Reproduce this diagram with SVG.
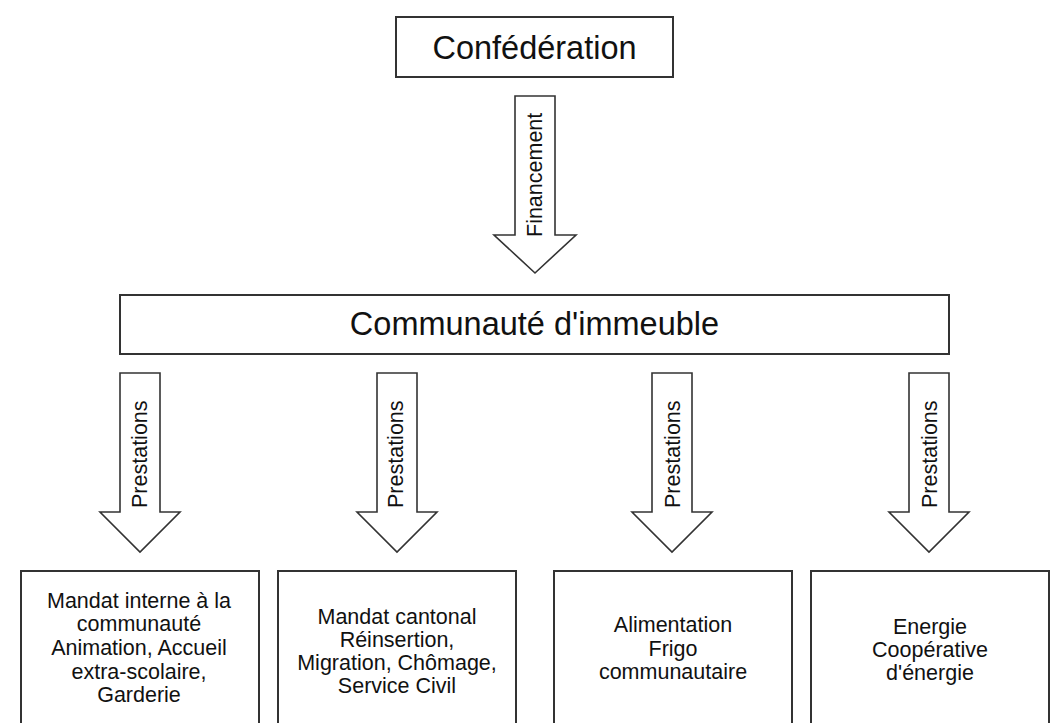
<svg xmlns="http://www.w3.org/2000/svg" width="1057" height="723" viewBox="0 0 1057 723">
<style>
.box{fill:#fff;stroke:#333;stroke-width:2}
.arr{fill:#fff;stroke:#333;stroke-width:1.6;stroke-linejoin:miter}
.big{font-family:"Liberation Sans",Arial,sans-serif;font-size:32.5px;fill:#111;text-anchor:middle}
.lab{font-family:"Liberation Sans",Arial,sans-serif;font-size:21.5px;fill:#111;text-anchor:start}
.sm{font-family:"Liberation Sans",Arial,sans-serif;font-size:21.5px;fill:#111;text-anchor:middle}
</style>
<rect width="1057" height="723" fill="#fff"/>
<g id="confederation">
<rect class="box" x="396" y="17" width="277" height="60"/>
<text class="big" x="534.5" y="59">Confédération</text>
</g>
<g id="communaute">
<rect class="box" x="120" y="295" width="829" height="59"/>
<text class="big" x="534.5" y="335">Communauté d'immeuble</text>
</g>
<g id="connectors">
<g id="arrow-financement">
<path class="arr" d="M515,96 H555 V235 H576 L535,273 L494,235 H515 Z"/>
<text class="lab" transform="translate(542,237) rotate(-90)">Financement</text>
</g>
<g id="arrow-p1">
<path class="arr" d="M120,373 H160 V512 H180 L140,552 L100,512 H120 Z"/>
<text class="lab" transform="translate(147,508) rotate(-90)">Prestations</text>
</g>
<g id="arrow-p2">
<path class="arr" d="M377,373 H417 V512 H437 L397,552 L357,512 H377 Z"/>
<text class="lab" transform="translate(403,508) rotate(-90)">Prestations</text>
</g>
<g id="arrow-p3">
<path class="arr" d="M652,373 H692 V512 H712 L672,552 L632,512 H652 Z"/>
<text class="lab" transform="translate(680,508) rotate(-90)">Prestations</text>
</g>
<g id="arrow-p4">
<path class="arr" d="M909,373 H949 V512 H969 L929,552 L889,512 H909 Z"/>
<text class="lab" transform="translate(937,508) rotate(-90)">Prestations</text>
</g>
</g>
<g id="box-mandat-interne">
<rect class="box" x="21" y="571" width="238" height="158"/>
<text class="sm" x="139" y="608">Mandat interne à la</text>
<text class="sm" x="139" y="631">communauté</text>
<text class="sm" x="139" y="655">Animation, Accueil</text>
<text class="sm" x="139" y="679">extra-scolaire,</text>
<text class="sm" x="139" y="702">Garderie</text>
</g>
<g id="box-mandat-cantonal">
<rect class="box" x="278" y="571" width="238" height="158"/>
<text class="sm" x="397" y="624">Mandat cantonal</text>
<text class="sm" x="397" y="647">Réinsertion,</text>
<text class="sm" x="397" y="670">Migration, Chômage,</text>
<text class="sm" x="397" y="693">Service Civil</text>
</g>
<g id="box-alimentation">
<rect class="box" x="554" y="571" width="238" height="158"/>
<text class="sm" x="673" y="632">Alimentation</text>
<text class="sm" x="673" y="656">Frigo</text>
<text class="sm" x="673" y="679">communautaire</text>
</g>
<g id="box-energie">
<rect class="box" x="811" y="571" width="238" height="158"/>
<text class="sm" x="930" y="634">Energie</text>
<text class="sm" x="930" y="657">Coopérative</text>
<text class="sm" x="930" y="680">d'énergie</text>
</g>
</svg>
